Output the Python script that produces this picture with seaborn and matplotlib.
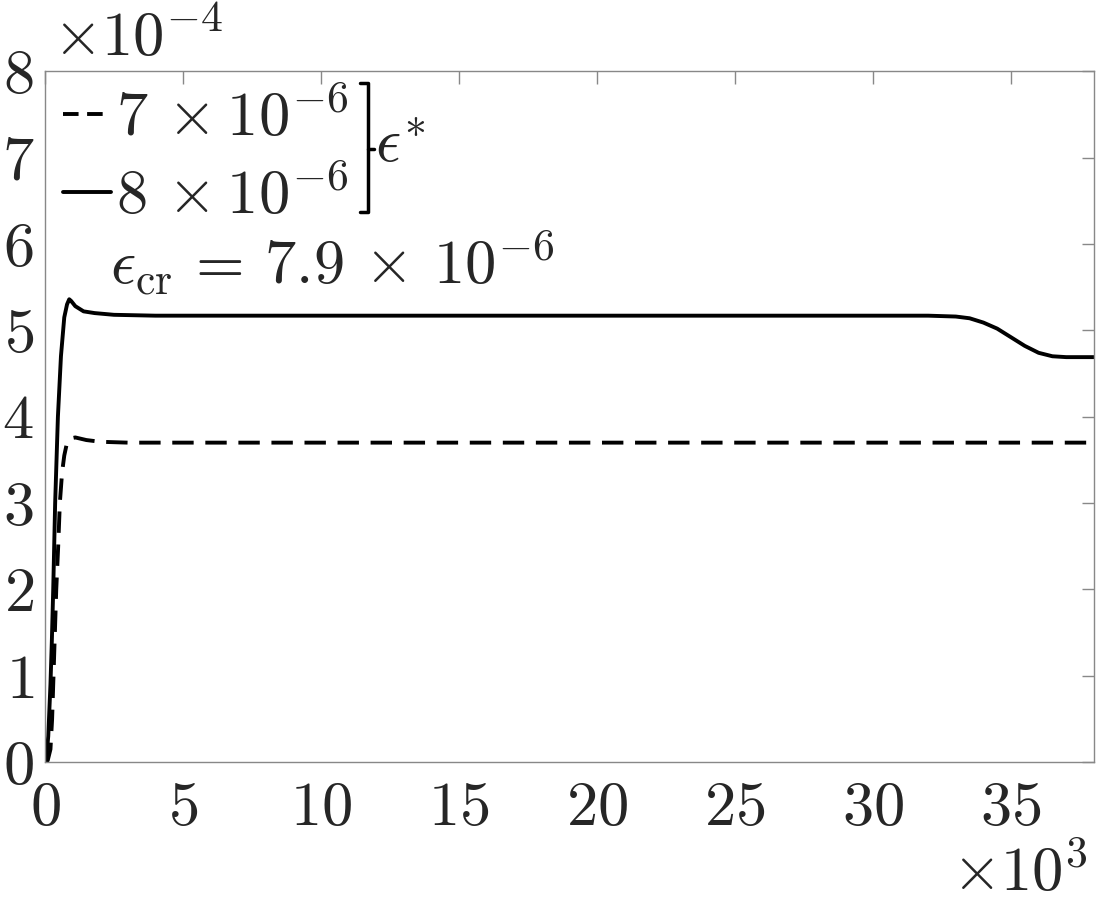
import numpy as np
import pandas as pd
import matplotlib
matplotlib.use("Agg")
import matplotlib.pyplot as plt
import seaborn as sns
from matplotlib.lines import Line2D
from matplotlib.ticker import FuncFormatter

# time (x 10^3) and response (x 10^-4)
solid_x = [0, 0.05, 0.12, 0.2, 0.25, 0.3, 0.37, 0.47, 0.58, 0.7, 0.8, 0.88,
           0.95, 1.1, 1.4, 1.8, 2.5, 4, 10, 20, 30, 32, 33, 33.5, 34, 34.5,
           35, 35.5, 36, 36.5, 37, 38]
solid_y = [0, 0.05, 0.3, 0.9, 1.4, 2.0, 3.0, 4.0, 4.7, 5.15, 5.3, 5.36,
           5.34, 5.28, 5.22, 5.2, 5.18, 5.17, 5.17, 5.17, 5.17, 5.17, 5.16,
           5.14, 5.09, 5.02, 4.92, 4.82, 4.74, 4.70, 4.69, 4.69]

dashed_x = [0, 0.1, 0.2, 0.26, 0.31, 0.36, 0.41, 0.48, 0.54, 0.62, 0.7, 0.8,
            0.95, 1.1, 1.5, 2, 3, 10, 20, 30, 38]
dashed_y = [0, 0.02, 0.15, 0.5, 1.0, 1.5, 2.0, 2.5, 3.0, 3.35, 3.55, 3.7,
            3.75, 3.76, 3.73, 3.71, 3.70, 3.70, 3.70, 3.70, 3.70]

labels = [r"$7\,\times 10^{-6}$", r"$8\,\times 10^{-6}$"]
x_ticks = [0, 5, 10, 15, 20, 25, 30, 35]
y_ticks = [0, 1, 2, 3, 4, 5, 6, 7, 8]

sns.set_style("white")
plt.rcParams["mathtext.fontset"] = "cm"
plt.rcParams["font.family"] = ["serif"]
plt.rcParams["font.serif"] = ["cmr10", "DejaVu Serif"]

FS = 45
GRAY = "#888888"
TXT = "#262626"

fig = plt.figure(figsize=(10.96, 9.02), dpi=100)
ax = fig.add_axes([0.041, 0.155, 0.957, 0.766])

df_dash = pd.DataFrame({"t": dashed_x, "v": dashed_y})
df_solid = pd.DataFrame({"t": solid_x, "v": solid_y})
sns.lineplot(data=df_dash, x="t", y="v", ax=ax, color="black", lw=2.8,
             linestyle=(0, (5.5, 3)), sort=False)
sns.lineplot(data=df_solid, x="t", y="v", ax=ax, color="black", lw=2.8,
             sort=False)

ax.set_xlim(0, 38)
ax.set_ylim(0, 8)
ax.set_xlabel("")
ax.set_ylabel("")
ax.set_xticks(x_ticks)
ax.set_yticks(y_ticks)
fmt = FuncFormatter(lambda v, p: f"${v:g}$")
ax.xaxis.set_major_formatter(fmt)
ax.yaxis.set_major_formatter(fmt)
ax.tick_params(direction="in", length=9, width=1, color=GRAY,
               labelsize=FS, labelcolor=TXT, top=True, right=True)
ax.tick_params(axis="x", pad=14)
ax.tick_params(axis="y", pad=8)
for s in ax.spines.values():
    s.set_color(GRAY)
    s.set_linewidth(1)

# offset exponents
fig.text(0.048, 0.938, r"$\times10^{-4}$", fontsize=FS, color=TXT,
         ha="left", va="baseline")
fig.text(0.993, 0.012, r"$\times10^{3}$", fontsize=FS, color=TXT,
         ha="right", va="baseline")

# legend
handles = [Line2D([], [], color="black", lw=2.8, linestyle=(0, (4, 2.2))),
           Line2D([], [], color="black", lw=2.8)]
ax.legend(handles, labels, loc="upper left", bbox_to_anchor=(-0.013, 1.02),
          frameon=False, fontsize=FS, handlelength=0.77, handletextpad=0.08,
          labelspacing=0.29, borderaxespad=0.3, borderpad=0.2)

# bracket with epsilon*
bx, btop, bbot, bmid = 0.308, 0.983, 0.796, 0.887
ax.plot([bx - 0.008, bx, bx, bx - 0.008], [btop, btop, bbot, bbot],
        transform=ax.transAxes, color="black", lw=2.5, clip_on=False)
ax.plot([bx, bx + 0.006], [bmid, bmid], transform=ax.transAxes,
        color="black", lw=2.5)
ax.text(bx + 0.007, bmid + 0.005, r"$\epsilon^{*}$", transform=ax.transAxes,
        fontsize=FS, ha="left", va="center")

ax.text(0.062, 0.722, r"$\epsilon_{\rm cr}\,=\,7.9\,\times\,10^{-6}$",
        transform=ax.transAxes, fontsize=FS, ha="left", va="center")

fig.savefig("out.png", dpi=100)
